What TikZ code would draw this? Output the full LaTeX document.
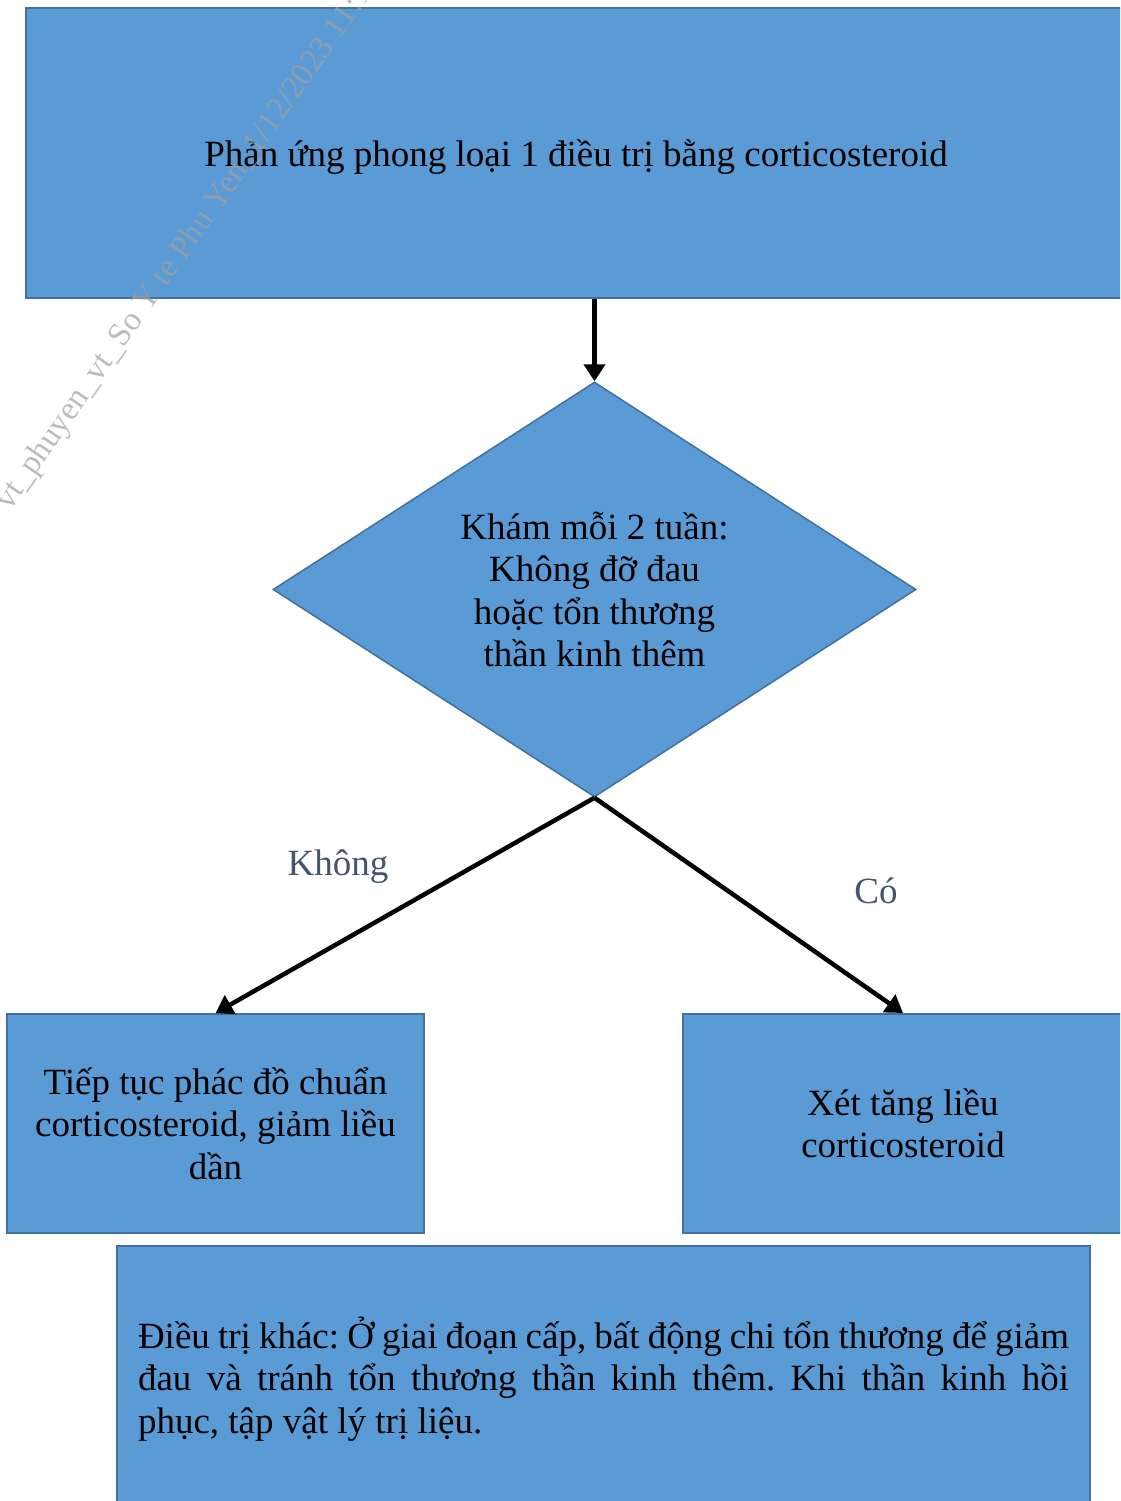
\documentclass[tikz,border=0pt]{standalone}
\usepackage{fontspec}
\setmainfont{Liberation Serif}
\usetikzlibrary{arrows.meta,shapes.geometric}
\definecolor{boxfill}{HTML}{5B9BD5}
\definecolor{boxline}{HTML}{41719C}
\definecolor{lblcol}{HTML}{44546A}
\definecolor{wmcol}{HTML}{A0A0A0}
\tikzset{
  txt/.style={font=\fontsize{37}{42.5}\selectfont},
  bluebox/.style={txt, draw=boxline, fill=boxfill, line width=2pt, inner sep=0pt, align=center},
  flowarrow/.style={line width=4.5pt, -{Triangle[width=21pt,length=17pt]}},
  edgelabel/.style={font=\fontsize{37}{42.5}\selectfont, text=lblcol},
}
\begin{document}
\begin{tikzpicture}[x=1pt,y=-1pt]
\useasboundingbox (0,0) rectangle (1120,1501);
\clip (0,0) rectangle (1120,1501);
\node[bluebox, minimum width=1100pt, minimum height=290pt, text depth=-4pt] (top) at (576,153) {Phản ứng phong loại 1 điều trị bằng corticosteroid};
\node[draw=boxline, fill=boxfill, line width=1.5pt, shape=diamond, inner sep=0pt, minimum width=643pt, minimum height=415pt] (dia) at (594.5,589.5) {};
\node[txt, align=center] (diatext) at (dia.center) {Khám mỗi 2 tuần:\\ Không đỡ đau\\ hoặc tổn thương\\ thần kinh thêm};
\node[bluebox, minimum width=417pt, minimum height=219pt] (left) at (215.5,1123.5) {Tiếp tục phác đồ chuẩn\\corticosteroid, giảm liều\\dần};
\node[bluebox, minimum width=440pt, minimum height=219pt] (right) at (903,1123.5) {Xét tăng liều\\corticosteroid};
\node[txt, draw=boxline, fill=boxfill, line width=2pt, inner xsep=21pt, inner ysep=0pt, text width=931pt, minimum height=266pt, align=justify] (bottom) at (603.5,1379) {\frenchspacing Điều trị khác: Ở giai đoạn cấp, bất động chi tổn thương để giảm\linebreak đau và tránh tổn thương thần kinh thêm. Khi thần kinh hồi\linebreak phục, tập vật lý trị liệu.};
\draw[flowarrow] (dia.north |- top.south) -- (dia.north);
\draw[flowarrow] (dia.south) -- (left.north);
\draw[flowarrow] (dia.south) -- (right.north);
\node[edgelabel] (lno) at (338,867) {Không};
\node[edgelabel] (lyes) at (876,891) {Có};
\node[font=\fontsize{33}{33}\selectfont, text=wmcol, opacity=0.7, rotate=55, anchor=base west] (wm) at (8,514) {vt\_phuyen\_vt\_So Y te Phu Yen\_1/12/2023 11:1};
\end{tikzpicture}
\end{document}
